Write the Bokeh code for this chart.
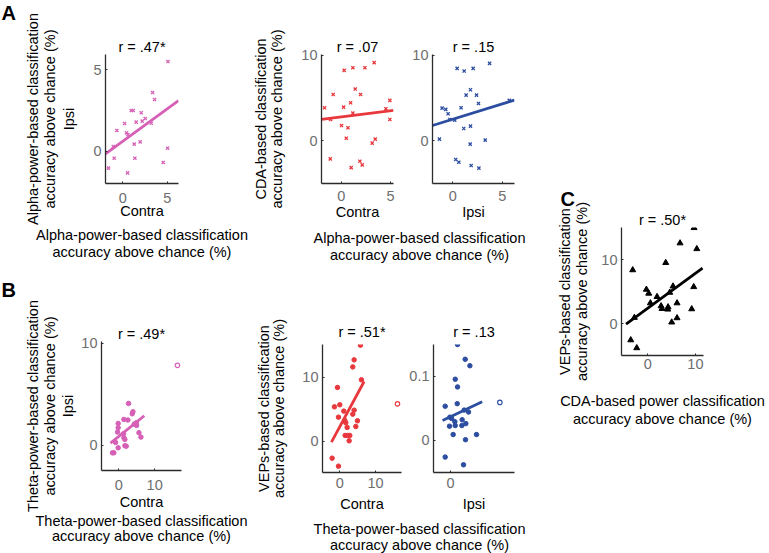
import numpy as np
from bokeh.plotting import figure
from bokeh.models import Range1d, FixedTicker, LinearAxis, Title, Spacer
from bokeh.layouts import row, column
from bokeh.embed import file_html
from bokeh.resources import INLINE
from bokeh.core.properties import value

# ---------------- data ----------------
# A: alpha-power contra vs ipsi
a1_contra = [5.08, 3.35, 3.57, 0.94, 1.17, 2.07, 2.52, 2.18, 1.50, 0.19, 3.20, -0.68,
             0.41, 0.56, -1.08, 1.28, 1.95, 5.04, -0.98, 1.35, -1.62, 4.55, 0.53]
a1_ipsi = [5.51, 3.61, 3.18, 2.51, 2.51, 2.37, 2.02, 1.86, 1.80, 1.71, 1.73, 1.29,
           1.14, 1.04, 0.31, 0.45, 0.59, 0.20, -0.41, -0.41, -1.02, -0.67, -1.31]
a1_fit_x = [-1.96, 6.27]
a1_fit_y = [-0.14, 3.12]

# A: CDA vs alpha contra
a2_contra = [0.30, 1.18, 2.40, 3.34, -0.81, 1.42, 1.96, -1.69, 0.24, 0.95, 1.18, -1.08,
             0.03, 0.68, 0.51, 3.45, 3.14, 4.93, 4.53, 4.93, -1.11, 1.89, 2.13, 1.01]
a2_cda = [8.24, 8.55, 8.55, 9.14, 5.41, 6.04, 5.41, 3.84, 3.92, 4.43, 3.22, 2.47,
          1.76, 1.49, 0.27, 0.16, -0.31, 4.71, 3.73, 2.47, -2.16, -2.43, -2.86, -3.18]
a2_fit_x = [-2.0, 5.3]
a2_fit_y = [2.47, 3.55]

# A: CDA vs alpha ipsi
a3_ipsi = [0.44, 1.15, 2.06, 3.72, 1.35, 1.79, 2.40, 2.60, 5.71, -1.08, -0.71, -0.47,
           0.84, -0.30, 0.20, 1.11, 1.79, -1.35, 1.76, 3.28, 0.30, 0.61, 1.86, 2.64]
a3_cda = [8.47, 8.16, 8.47, 9.06, 5.33, 5.96, 5.33, 4.35, 4.71, 3.80, 3.65, 3.14,
          3.84, 2.47, 2.39, 1.41, 1.69, 0.16, -0.43, 0.04, -2.24, -2.55, -2.94, -3.25]
a3_fit_x = [-2.05, 6.24]
a3_fit_y = [1.76, 4.75]

# B: theta-power contra vs ipsi (outlier = open marker)
b1_contra = [2.71, 3.93, 3.74, -0.19, 1.40, 2.52, 4.86, 4.95, 4.30, -0.19, -0.37, 1.31,
             5.61, 6.17, 1.40, 1.68, -0.93, 1.68, 2.06, -0.19, -1.78, -1.40]
b1_ipsi = [4.10, 3.29, 3.09, 2.15, 2.54, 2.48, 2.21, 1.95, 2.08, 1.73, 1.30, 1.14,
           1.24, 0.81, 0.75, 0.59, 0.29, -0.03, -0.07, -0.23, -0.72, -0.72]
b1_out_x = [16.36]
b1_out_y = [7.82]
b1_fit_x = [-2.34, 7.10]
b1_fit_y = [0.23, 2.90]

# B: VEPs vs theta contra
b2_contra = [5.79, 4.02, 3.64, 6.07, -0.65, -1.50, 0.00, -0.37, 1.12, 4.02, 3.64, 1.40,
             1.68, 2.06, 4.95, 4.49, 1.50, 2.15, 2.80, 2.62, -2.15, -0.37]
b2_vep = [15.0, 12.7, 11.6, 9.58, 8.39, 5.36, 5.68, 3.75, 4.69, 4.84, 4.22, 3.23,
          2.86, 2.14, 3.18, 2.29, 0.89, 0.89, 0.89, 0.05, -2.66, -3.91]
b2_out_x = [16.17]
b2_out_y = [5.83]
b2_fit_x = [-2.34, 6.82]
b2_fit_y = [-0.16, 9.32]

# B: VEPs vs theta ipsi
b3_ipsi = [1.09, 2.28, 3.01, 0.73, 1.09, -0.83, 1.04, -0.10, 0.16, 0.67, 1.81, 2.38,
           -0.16, 0.73, 1.76, 2.80, 2.12, 0.41, 4.04, 2.33, -0.83, 2.02]
b3_vep = [0.149, 0.126, 0.116, 0.095, 0.083, 0.053, 0.057, 0.036, 0.034, 0.029, 0.032, 0.026,
          0.022, 0.023, 0.023, 0.044, 0.047, 0.009, 0.009, 0.001, -0.026, -0.038]
b3_out_x = [7.67]
b3_out_y = [0.059]
b3_fit_x = [-1.24, 4.92]
b3_fit_y = [0.031, 0.060]

# C: VEPs vs CDA
c_cda = [9.72, 6.78, 10.3, 3.78, -3.15, -0.28, 0.21, 5.31, 9.65, 1.96, 0.56, 4.62,
         2.80, 3.00, 4.27, 4.20, 6.15, 9.23, 6.15, 5.03, -2.80, -3.56, -2.30]
c_vep = [15.0, 12.6, 11.7, 9.53, 8.39, 5.34, 4.72, 5.85, 5.75, 4.20, 3.21, 4.87,
         2.75, 2.33, 2.59, 2.23, 3.21, 2.28, 0.88, 0.21, 0.93, -2.58, -3.82]
c_fit_x = [-4.55, 11.5]
c_fit_y = [-0.10, 8.70]

titles = {"a1": "r = .47*", "a2": "r = .07", "a3": "r = .15",
          "b1": "r = .49*", "b2": "r = .51*", "b3": "r = .13", "c": "r = .50*"}
panel_letters = ["A", "B", "C"]

# ---------------- style ----------------
FONT = "Liberation Sans"
FS = "14.5px"
AXC = "#2b2b2b"
TKC = "#6e6e6e"
PINK = "#d660b6"
RED = "#e8383d"
BLUE = "#2c4da0"


def text_axis(text, standoff):
    ax = LinearAxis(ticker=FixedTicker(ticks=[]), axis_label=text)
    ax.axis_line_color = None
    ax.major_tick_line_color = None
    ax.minor_tick_line_color = None
    ax.major_tick_out = 0
    ax.major_tick_in = 0
    ax.minor_tick_out = 0
    ax.minor_tick_in = 0
    ax.major_label_text_font_size = "0px"
    ax.major_label_standoff = 0
    ax.axis_label_standoff = standoff
    ax.axis_label_text_font = FONT
    ax.axis_label_text_font_size = FS
    ax.axis_label_text_font_style = "normal"
    ax.axis_label_text_color = "black"
    return ax


def style_axis(ax, ticks, tick_standoff, label, label_standoff, overrides=None):
    ax.ticker = FixedTicker(ticks=ticks)
    ax.axis_line_color = AXC
    ax.axis_line_width = 1.3
    ax.major_tick_line_color = AXC
    ax.major_tick_in = 2
    ax.major_tick_out = 0
    ax.minor_tick_line_color = None
    ax.major_label_text_font = FONT
    ax.major_label_text_font_size = FS
    ax.major_label_text_color = TKC
    ax.major_label_standoff = tick_standoff
    if overrides:
        ax.major_label_overrides = overrides
    if label:
        ax.axis_label = label
        ax.axis_label_standoff = label_standoff
        ax.axis_label_text_font = FONT
        ax.axis_label_text_font_size = FS
        ax.axis_label_text_font_style = "normal"
        ax.axis_label_text_color = "black"


def panel(w, h, bl, bt, fw, fh, xr, yr, title, title_standoff):
    p = figure(width=w, height=h, x_range=Range1d(*xr), y_range=Range1d(*yr),
               output_backend="svg", toolbar_location=None,
               min_border_left=bl, min_border_top=bt,
               min_border_right=w - bl - fw, min_border_bottom=h - bt - fh,
               title_location=None)
    p.grid.visible = False
    p.outline_line_color = None
    p.background_fill_color = "white"
    p.border_fill_color = "white"
    t = Title(text=title, align="center", text_font=FONT, text_font_size=FS,
              text_font_style="normal", text_color="black", standoff=title_standoff)
    p.add_layout(t, "above")
    return p


def textfig(w, h, xs, ys, texts, align="center", size=FS, style="normal"):
    p = figure(width=w, height=h, x_range=Range1d(0, w), y_range=Range1d(0, h),
               output_backend="svg", toolbar_location=None, min_border=0,
               x_axis_type=None, y_axis_type=None, title_location=None)
    p.grid.visible = False
    p.outline_line_color = None
    p.text(x=xs, y=ys, text=texts, text_align=align, text_baseline="alphabetic",
           text_font=value(FONT), text_font_size=value(size),
           text_font_style=style, text_color="black")
    return p


# ---------------- letters strip (left) ----------------
strip = textfig(16, 553, [1, 1], [553 - 12, 553 - 289], panel_letters[:2],
                align="left", size="20px", style="bold")

# ---------------- A1 ----------------
pa1 = panel(233, 270, 89, 54, 73, 129, (-1.96, 6.27), (-1.96, 5.94), titles["a1"], 0)
style_axis(pa1.yaxis[0], [0, 5], 4, "Ipsi", 13)
style_axis(pa1.xaxis[0], [0, 5], 9, "Contra", -3)
pa1.add_layout(text_axis("accuracy above chance (%)", 1), "left")
pa1.add_layout(text_axis("Alpha-power-based classification", -2), "left")
pa1.add_layout(text_axis("Alpha-power-based classification", 5), "below")
pa1.add_layout(text_axis("accuracy above chance (%)", -2), "below")
pa1.line(a1_fit_x, a1_fit_y, line_color=PINK, line_width=2.8)
pa1.scatter(a1_contra, a1_ipsi, marker="x", size=4.5, line_color=PINK, line_width=1.3)

# ---------------- A2 ----------------
pa2 = panel(156, 229, 72, 54, 72, 129, (-2.0, 5.3), (-5.05, 10.1), titles["a2"], 0)
style_axis(pa2.yaxis[0], [0, 10], 4, "accuracy above chance (%)", 13)
style_axis(pa2.xaxis[0], [0, 5], 7, "Contra", 0)
pa2.add_layout(text_axis("CDA-based classification", -2), "left")
pa2.line(a2_fit_x, a2_fit_y, line_color=RED, line_width=2.8)
pa2.scatter(a2_contra, a2_cda, marker="x", size=4.5, line_color=RED, line_width=1.3)

# ---------------- A3 ----------------
pa3 = panel(135, 229, 27, 54, 82, 129, (-2.05, 6.24), (-5.05, 10.1), titles["a3"], 0)
style_axis(pa3.yaxis[0], [0, 10], 4, None, 0)
style_axis(pa3.xaxis[0], [0, 5], 7, "Ipsi", 0)
pa3.line(a3_fit_x, a3_fit_y, line_color=BLUE, line_width=2.8)
pa3.scatter(a3_ipsi, a3_cda, marker="x", size=4.5, line_color=BLUE, line_width=1.3)

la23 = textfig(291, 41, [170, 170], [32.3, 15.3],
               ["Alpha-power-based classification", "accuracy above chance (%)"])

# ---------------- B1 ----------------
pb1 = panel(233, 283, 85, 71, 80, 129, (-4.85, 17.5), (-2.45, 10.15), titles["b1"], 0)
style_axis(pb1.yaxis[0], [0, 10], 4, "Ipsi", 2)
style_axis(pb1.xaxis[0], [0, 10], 9, "Contra", 1)
pb1.add_layout(text_axis("accuracy above chance (%)", 0), "left")
pb1.add_layout(text_axis("Theta-power-based classification", -2), "left")
pb1.add_layout(text_axis("Theta-power-based classification", 0), "below")
pb1.add_layout(text_axis("accuracy above chance (%)", -4), "below")
pb1.line(b1_fit_x, b1_fit_y, line_color=PINK, line_width=2.8)
pb1.scatter(b1_contra, b1_ipsi, marker="circle", size=4.5, fill_color=PINK, line_color=PINK)
pb1.scatter(b1_out_x, b1_out_y, marker="circle", size=4.5, fill_color="white",
            line_color=PINK, line_width=1.1)

# ---------------- B2 ----------------
pb2 = panel(154, 247, 73, 74, 79, 128, (-4.85, 17.3), (-4.9, 15.1), titles["b2"], 9)
style_axis(pb2.yaxis[0], [0, 10], 4, "accuracy above chance (%)", 12)
style_axis(pb2.xaxis[0], [0, 10], 5, "Contra", 5)
pb2.add_layout(text_axis("VEPs-based classification", -3), "left")
pb2.line(b2_fit_x, b2_fit_y, line_color=RED, line_width=2.8)
pb2.scatter(b2_contra, b2_vep, marker="circle", size=4.5, fill_color=RED, line_color=RED)
pb2.scatter(b2_out_x, b2_out_y, marker="circle", size=4.5, fill_color="white",
            line_color=RED, line_width=1.1)

# ---------------- B3 ----------------
pb3 = panel(137, 247, 30, 74, 81, 128, (-2.65, 9.95), (-0.05, 0.149), titles["b3"], 9)
style_axis(pb3.yaxis[0], [0, 0.1], 4, None, 0, overrides={0: "0", 0.1: "0.1"})
style_axis(pb3.xaxis[0], [0, 10], 5, "Ipsi", 5)
pb3.line(b3_fit_x, b3_fit_y, line_color=BLUE, line_width=2.8)
pb3.scatter(b3_ipsi, b3_vep, marker="circle", size=4.5, fill_color=BLUE, line_color=BLUE)
pb3.scatter(b3_out_x, b3_out_y, marker="circle", size=4.5, fill_color="white",
            line_color=BLUE, line_width=1.1)

lb23 = textfig(291, 36, [170, 170], [24.6, 8.5],
               ["Theta-power-based classification", "accuracy above chance (%)"])

# ---------------- C ----------------
pc = panel(229, 264, 81, 51, 82, 128, (-5.5, 11.7), (-5.0, 15.05), titles["c"], 0)
pc.add_layout(Title(text=panel_letters[2], align="left", offset=-61, text_font=FONT,
                    text_font_size="20px", text_font_style="bold", text_color="black",
                    standoff=0), "above")
style_axis(pc.yaxis[0], [0, 10], 4, "accuracy above chance (%)", 8)
style_axis(pc.xaxis[0], [0, 10], 3, "CDA-based power classification", 21)
pc.add_layout(text_axis("VEPs-based classification", -1), "left")
pc.add_layout(text_axis("accuracy above chance (%)", -1), "below")
pc.line(c_fit_x, c_fit_y, line_color="black", line_width=2.8)
pc.scatter(c_cda, c_vep, marker="triangle", size=6, fill_color="black", line_color="black")

# ---------------- layout ----------------
rowA = row(pa1, column(row(pa2, pa3), la23))
rowB = row(pb1, column(row(pb2, pb3), lb23))
left = column(rowA, rowB)
right = column(Spacer(width=229, height=176), pc)
layout = row(strip, left, right)

open("out.html", "w").write(file_html(layout, INLINE))
